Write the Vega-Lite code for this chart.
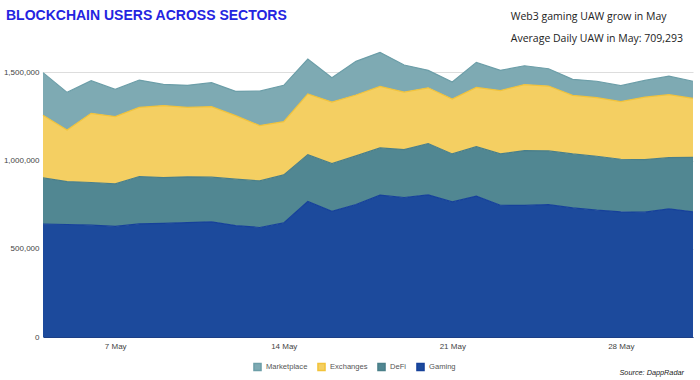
{
  "$schema": "https://vega.github.io/schema/vega-lite/v6.json",
  "width": 650,
  "height": 291,
  "autosize": {"type": "none"},
  "padding": {"left": 43, "top": 46, "right": 7, "bottom": 43},
  "background": "white",
  "title": {
    "text": "BLOCKCHAIN USERS ACROSS SECTORS",
    "anchor": "start",
    "frame": "group",
    "dx": -37,
    "offset": -11,
    "font": "Liberation Sans",
    "fontSize": 14,
    "fontWeight": "bold",
    "color": "#2424e0"
  },
  "config": {
    "view": {"stroke": null},
    "axis": {"labelFont": "Liberation Sans", "labelFontSize": 8, "labelColor": "#444", "ticks": false, "title": null},
    "legend": {"labelFont": "Liberation Sans", "labelFontSize": 7.6, "labelColor": "#555"}
  },
  "layer": [
    {
      "data": {
        "values": [
          {"date": "2023-05-04", "Gaming": 640000, "DeFi": 262000, "Exchanges": 355000, "Marketplace": 242000},
          {"date": "2023-05-05", "Gaming": 638000, "DeFi": 243000, "Exchanges": 293000, "Marketplace": 213000},
          {"date": "2023-05-06", "Gaming": 634000, "DeFi": 242000, "Exchanges": 392000, "Marketplace": 185000},
          {"date": "2023-05-07", "Gaming": 627000, "DeFi": 241000, "Exchanges": 382000, "Marketplace": 154000},
          {"date": "2023-05-08", "Gaming": 641000, "DeFi": 269000, "Exchanges": 392000, "Marketplace": 155000},
          {"date": "2023-05-09", "Gaming": 644000, "DeFi": 260000, "Exchanges": 408000, "Marketplace": 120000},
          {"date": "2023-05-10", "Gaming": 649000, "DeFi": 259000, "Exchanges": 394000, "Marketplace": 125000},
          {"date": "2023-05-11", "Gaming": 653000, "DeFi": 253000, "Exchanges": 400000, "Marketplace": 136000},
          {"date": "2023-05-12", "Gaming": 632000, "DeFi": 263000, "Exchanges": 360000, "Marketplace": 138000},
          {"date": "2023-05-13", "Gaming": 621000, "DeFi": 264000, "Exchanges": 314000, "Marketplace": 195000},
          {"date": "2023-05-14", "Gaming": 647000, "DeFi": 272000, "Exchanges": 302000, "Marketplace": 206000},
          {"date": "2023-05-15", "Gaming": 768000, "DeFi": 266000, "Exchanges": 344000, "Marketplace": 198000},
          {"date": "2023-05-16", "Gaming": 713000, "DeFi": 270000, "Exchanges": 349000, "Marketplace": 138000},
          {"date": "2023-05-17", "Gaming": 751000, "DeFi": 276000, "Exchanges": 345000, "Marketplace": 191000},
          {"date": "2023-05-18", "Gaming": 804000, "DeFi": 268000, "Exchanges": 349000, "Marketplace": 193000},
          {"date": "2023-05-19", "Gaming": 791000, "DeFi": 272000, "Exchanges": 326000, "Marketplace": 153000},
          {"date": "2023-05-20", "Gaming": 806000, "DeFi": 291000, "Exchanges": 316000, "Marketplace": 99000},
          {"date": "2023-05-21", "Gaming": 766000, "DeFi": 272000, "Exchanges": 311000, "Marketplace": 97000},
          {"date": "2023-05-22", "Gaming": 799000, "DeFi": 280000, "Exchanges": 336000, "Marketplace": 142000},
          {"date": "2023-05-23", "Gaming": 747000, "DeFi": 291000, "Exchanges": 359000, "Marketplace": 115000},
          {"date": "2023-05-24", "Gaming": 746000, "DeFi": 311000, "Exchanges": 374000, "Marketplace": 107000},
          {"date": "2023-05-25", "Gaming": 751000, "DeFi": 304000, "Exchanges": 368000, "Marketplace": 98000},
          {"date": "2023-05-26", "Gaming": 732000, "DeFi": 306000, "Exchanges": 332000, "Marketplace": 91000},
          {"date": "2023-05-27", "Gaming": 719000, "DeFi": 306000, "Exchanges": 332000, "Marketplace": 93000},
          {"date": "2023-05-28", "Gaming": 710000, "DeFi": 298000, "Exchanges": 327000, "Marketplace": 90000},
          {"date": "2023-05-29", "Gaming": 708000, "DeFi": 298000, "Exchanges": 354000, "Marketplace": 95000},
          {"date": "2023-05-30", "Gaming": 727000, "DeFi": 290000, "Exchanges": 357000, "Marketplace": 105000},
          {"date": "2023-05-31", "Gaming": 710000, "DeFi": 309000, "Exchanges": 334000, "Marketplace": 97000}
        ]
      },
      "transform": [
        {"fold": ["Gaming", "DeFi", "Exchanges", "Marketplace"], "as": ["sector", "users"]},
        {"calculate": "indexof(['Gaming','DeFi','Exchanges','Marketplace'], datum.sector)", "as": "ord"},
        {"stack": "users", "groupby": ["date"], "sort": [{"field": "ord", "order": "ascending"}], "as": ["y0", "y1"]}
      ],
      "layer": [
        {
          "mark": {"type": "area"},
          "encoding": {
            "x": {
              "field": "date", "type": "temporal",
              "scale": {"type": "utc", "domain": [{"year": 2023, "month": 5, "date": 4, "utc": true}, {"year": 2023, "month": 5, "date": 31, "utc": true}]},
              "axis": {
                "values": [
                  {"year": 2023, "month": 5, "date": 7, "utc": true},
                  {"year": 2023, "month": 5, "date": 14, "utc": true},
                  {"year": 2023, "month": 5, "date": 21, "utc": true},
                  {"year": 2023, "month": 5, "date": 28, "utc": true}
                ],
                "format": "%-d %b", "grid": false, "domain": true, "domainColor": "#1c3f86", "labelPadding": 5
              }
            },
            "y": {
              "field": "y1", "type": "quantitative",
              "scale": {"domain": [0, 1650000], "nice": false},
              "axis": {"values": [0, 500000, 1000000, 1500000], "format": ",.0f", "grid": true, "gridColor": "#dddddd", "domain": false, "labelPadding": 4}
            },
            "y2": {"field": "y0"},
            "fill": {
              "field": "sector", "type": "nominal",
              "scale": {"domain": ["Marketplace", "Exchanges", "DeFi", "Gaming"], "range": ["#7eaab3", "#f4cf62", "#518792", "#1c4a9c"]},
              "legend": {"orient": "none", "legendX": 210, "legendY": 316, "direction": "horizontal", "title": null, "symbolType": "square", "symbolSize": 50, "columnPadding": 6, "labelOffset": 4}
            }
          }
        },
        {
          "mark": {"type": "line", "strokeWidth": 1.2},
          "encoding": {
            "x": {"field": "date", "type": "temporal"},
            "y": {"field": "y1", "type": "quantitative"},
            "stroke": {
              "field": "sector", "type": "nominal",
              "scale": {"domain": ["Marketplace", "Exchanges", "DeFi", "Gaming"], "range": ["#6c9ea8", "#f2c33a", "#4a7f89", "#16419a"]},
              "legend": null
            }
          }
        }
      ]
    },
    {
      "data": {"values": [{}]},
      "mark": {"type": "text", "text": "Web3 gaming UAW grow in May", "align": "left", "baseline": "middle", "font": "Open Sans", "fontSize": 10.5, "color": "#222"},
      "encoding": {
        "x": {"datum": {"year": 2023, "month": 5, "date": 23, "hours": 10, "minutes": 20, "utc": true}},
        "y": {"datum": 1812000}
      }
    },
    {
      "data": {"values": [{}]},
      "mark": {"type": "text", "text": "Average Daily UAW in May: 709,293", "align": "left", "baseline": "middle", "font": "Open Sans", "fontSize": 10.5, "color": "#222"},
      "encoding": {
        "x": {"datum": {"year": 2023, "month": 5, "date": 23, "hours": 10, "minutes": 20, "utc": true}},
        "y": {"datum": 1687000}
      }
    },
    {
      "data": {"values": [{}]},
      "mark": {"type": "text", "text": "Source: DappRadar", "align": "right", "baseline": "middle", "font": "Liberation Sans", "fontStyle": "italic", "fontSize": 7.3, "color": "#222"},
      "encoding": {
        "x": {"datum": {"year": 2023, "month": 5, "date": 30, "hours": 15, "utc": true}},
        "y": {"datum": -204000}
      }
    }
  ]
}
